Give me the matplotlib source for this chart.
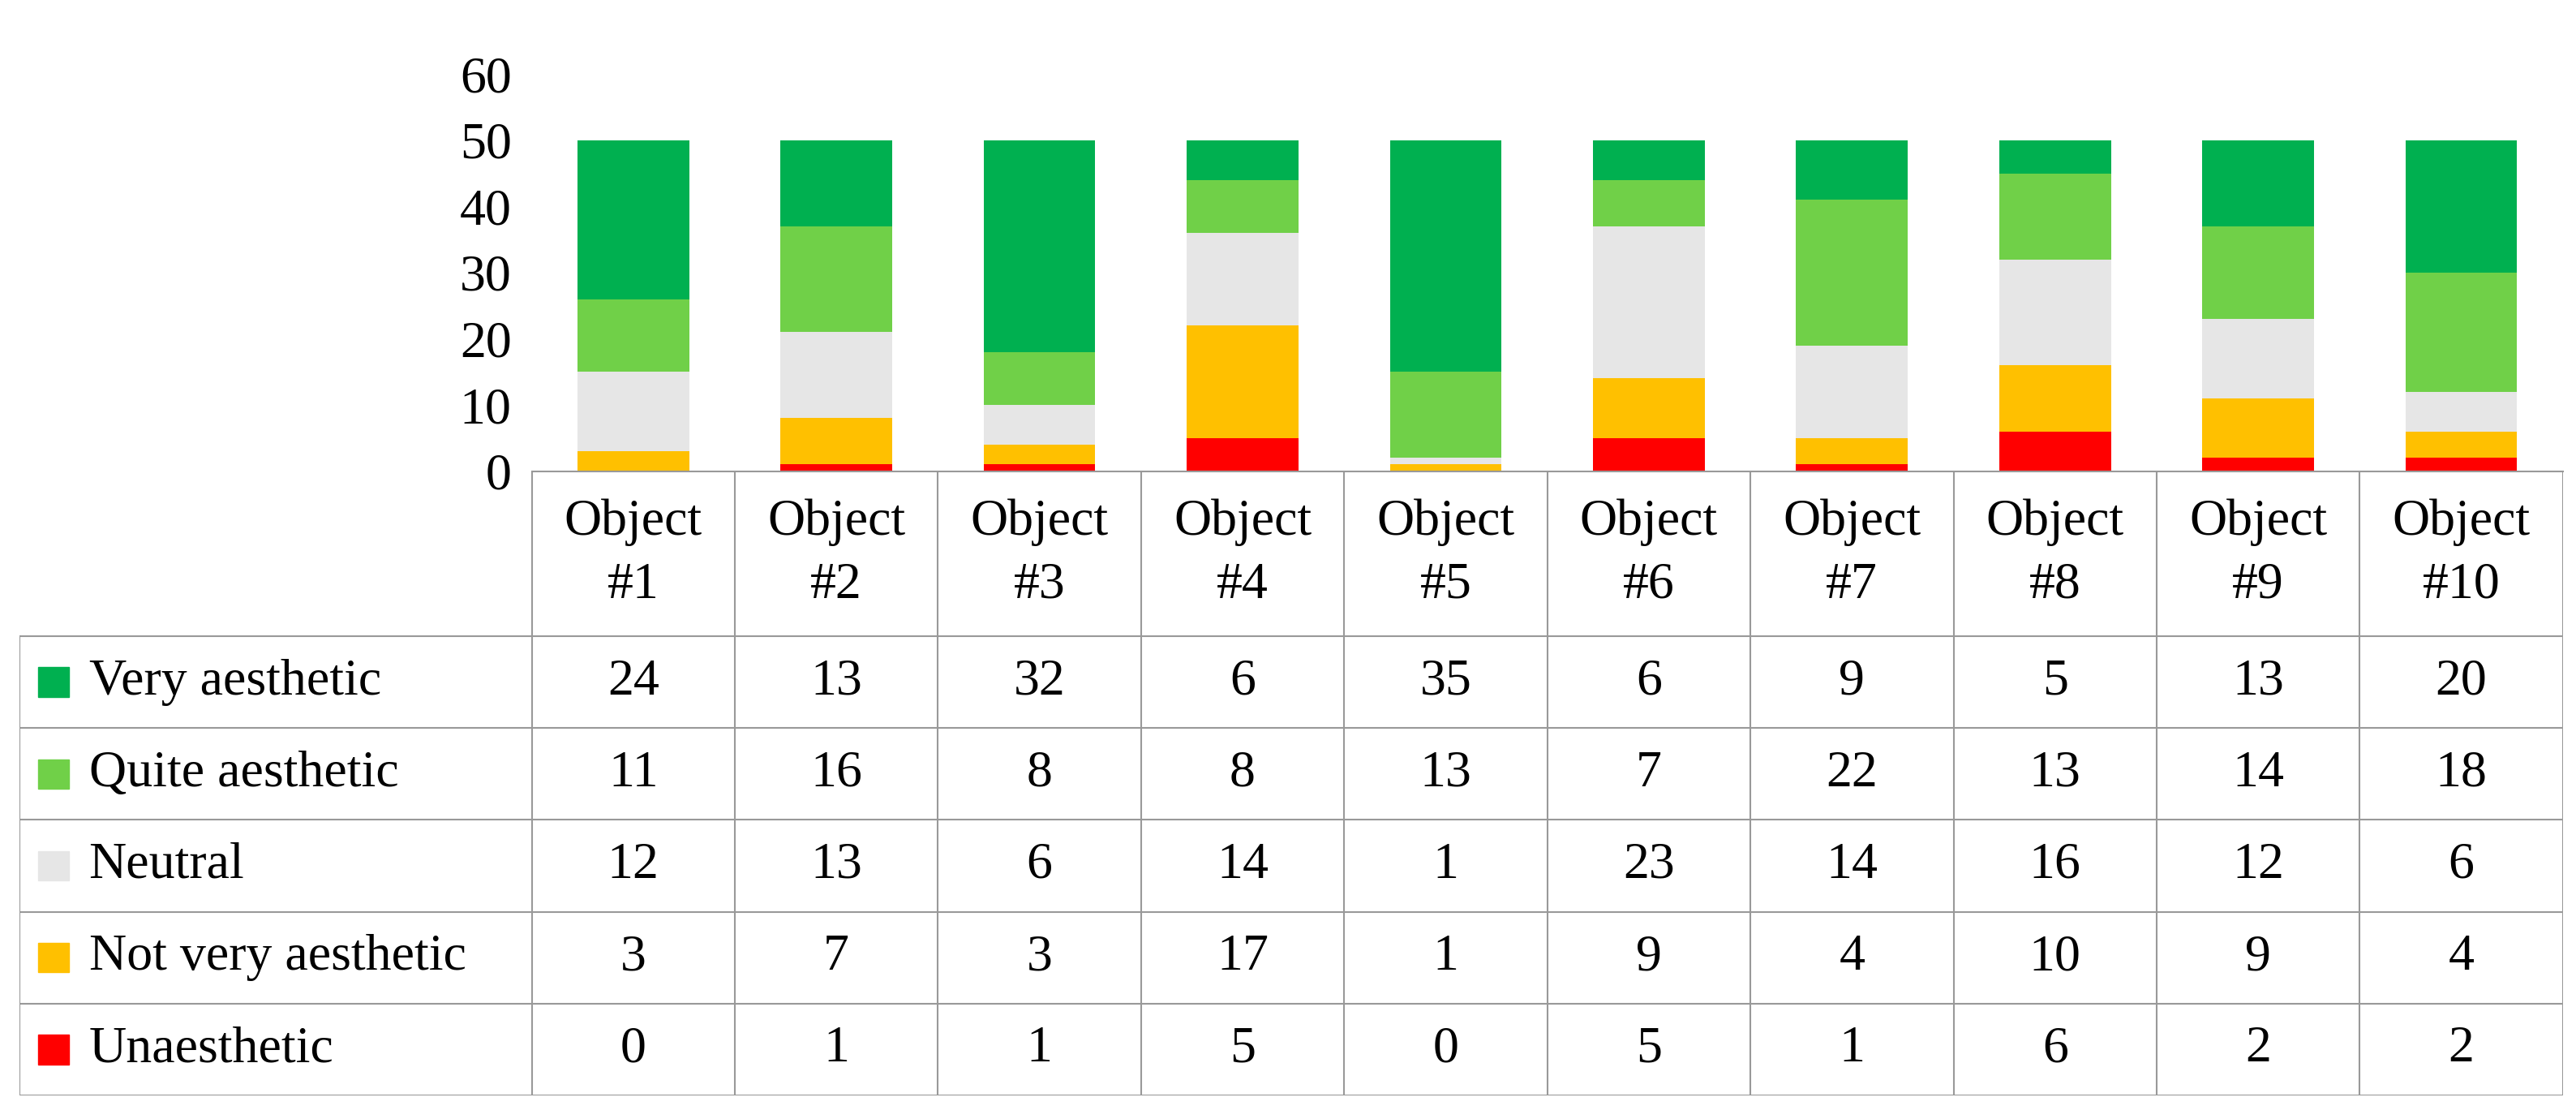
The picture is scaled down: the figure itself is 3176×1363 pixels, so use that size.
import matplotlib.pyplot as plt
import numpy as np

plt.rcParams['font.family'] = ['Liberation Serif', 'DejaVu Serif']

objects = ['Object\n#%d' % i for i in range(1, 11)]
series = ['Unaesthetic', 'Not very aesthetic', 'Neutral', 'Quite aesthetic', 'Very aesthetic']
unaesthetic = [0, 1, 1, 5, 0, 5, 1, 6, 2, 2]
not_very = [3, 7, 3, 17, 1, 9, 4, 10, 9, 4]
neutral = [12, 13, 6, 14, 1, 23, 14, 16, 12, 6]
quite = [11, 16, 8, 8, 13, 7, 22, 13, 14, 18]
very = [24, 13, 32, 6, 35, 6, 9, 5, 13, 20]
colors = ['#FF0000', '#FFC000', '#E6E6E6', '#70D048', '#00B050']
values = [unaesthetic, not_very, neutral, quite, very]

fig = plt.figure(figsize=(31.76, 13.63), dpi=100)
fs = 46

# bar chart
ax = fig.add_axes([0.2064, 0.574, 0.7885, 0.359])
x = np.arange(10)
bottom = np.zeros(10)
for vals, c in zip(values, colors):
    ax.bar(x, vals, 0.55, bottom=bottom, color=c)
    bottom += vals
ax.set_xlim(-0.5, 9.5)
ax.set_ylim(0, 60)
ax.set_yticks(range(0, 61, 10))
ax.tick_params(axis='y', labelsize=fs, length=0, pad=18)
ax.set_xticks([])
for s in ['top', 'right', 'left']:
    ax.spines[s].set_visible(False)
ax.spines['bottom'].set_color('#999999')
ax.spines['bottom'].set_linewidth(1.5)

# data table
tb = fig.add_axes([0.0077, 0.0097, 0.9872, 0.5643])
lab_w = 2.52
tb.set_xlim(-0.5 - lab_w, 9.5)
tb.set_ylim(378, 0)
tb.axis('off')
lc = '#999999'
row_top = [100 + 55.6 * i for i in range(6)]
for i in range(11):
    tb.plot([i - 0.5, i - 0.5], [0, 378], color=lc, lw=1.5)
tb.plot([-0.5 - lab_w] * 2, [100, 378], color=lc, lw=1.5)
for yy in row_top:
    tb.plot([-0.5 - lab_w, 9.5], [yy, yy], color=lc, lw=1.5)
for i, name in enumerate(objects):
    tb.text(i, 50, name, ha='center', va='center', fontsize=fs, linespacing=1.45)
for r, idx in enumerate([4, 3, 2, 1, 0]):
    yc = row_top[r] + 27.8
    tb.add_patch(plt.Rectangle((-0.5 - lab_w + 0.09, yc - 9), 0.15, 18,
                               color=colors[idx]))
    tb.text(-0.5 - lab_w + 0.34, yc, series[idx], ha='left', va='center', fontsize=fs)
    for i, v in enumerate(values[idx]):
        tb.text(i, yc, str(v), ha='center', va='center', fontsize=fs)

fig.savefig('out.png', dpi=100)
